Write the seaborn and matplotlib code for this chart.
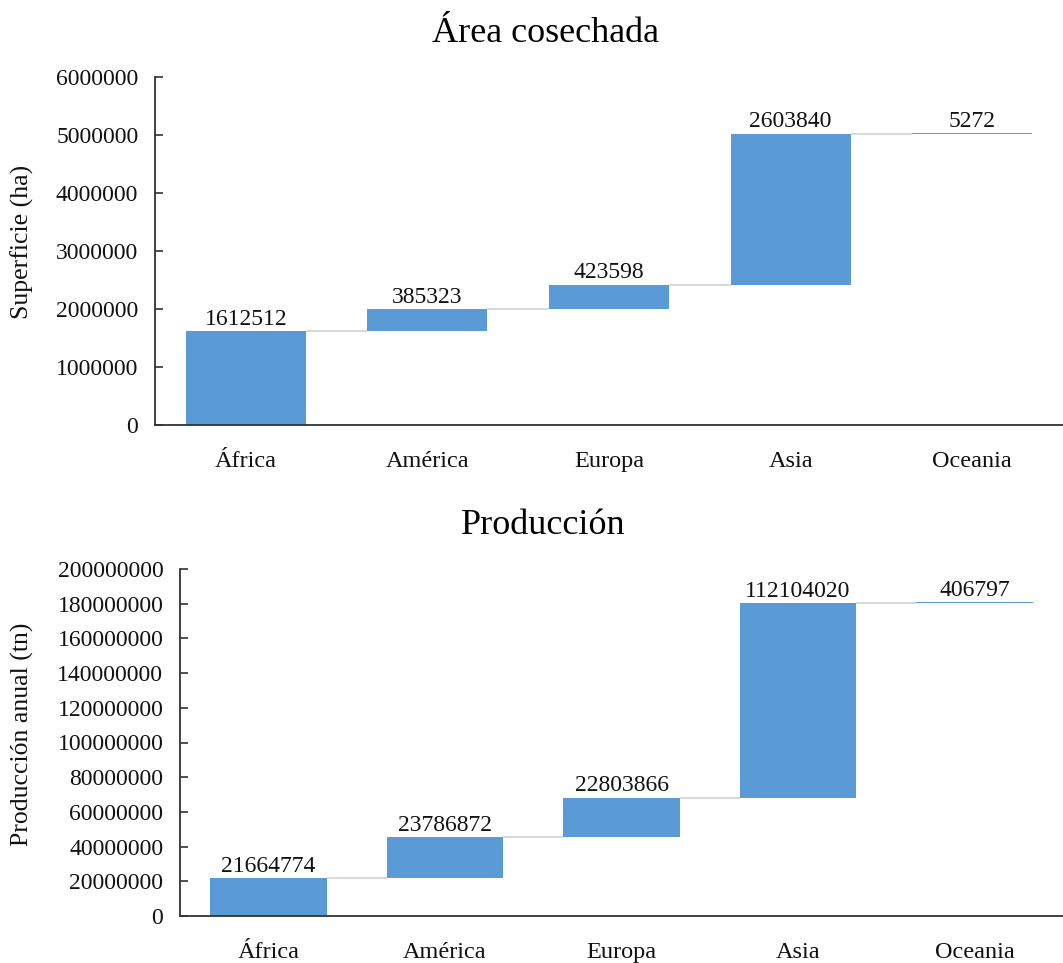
import numpy as np
import pandas as pd
import matplotlib
matplotlib.use("Agg")
import matplotlib.pyplot as plt
from matplotlib.ticker import MultipleLocator, FuncFormatter
import seaborn as sns

# Regions and their contributions
regiones = ["África", "América", "Europa", "Asia", "Oceania"]
area_ha = [1612512, 385323, 423598, 2603840, 5272]
produccion_tn = [21664774, 23786872, 22803866, 112104020, 406797]

sns.set_theme(style="white")
plt.rcParams["font.family"] = ["Liberation Serif", "DejaVu Serif"]

BAR_COLOR = "#5B9BD5"
LINK_COLOR = "#D9D9D9"
BAR_W = 0.66
TEXT = "#111111"


def waterfall(ax, values, ylabel, ymax, step, label_y):
    vals = np.asarray(values, dtype=float)
    tops = np.cumsum(vals)
    bases = tops - vals
    df = pd.DataFrame({"region": regiones, "valor": vals})
    sns.barplot(data=df, x="region", y="valor", order=regiones, bottom=bases,
                color=BAR_COLOR, saturation=1, width=BAR_W, errorbar=None,
                linewidth=0, ax=ax)
    # connectors between consecutive bars
    pos = np.arange(len(regiones))
    ax.hlines(tops[:-1], pos[:-1] + BAR_W / 2, pos[1:] - BAR_W / 2,
              color=LINK_COLOR, linewidth=1.5, zorder=1)
    ax.bar_label(ax.containers[0], labels=[f"{int(v)}" for v in vals],
                 padding=1, fontsize=17, color=TEXT)
    ax.set_xlim(-0.5, len(regiones) - 0.5)
    ax.set_ylim(0, ymax)
    ax.yaxis.set_major_locator(MultipleLocator(step))
    ax.yaxis.set_major_formatter(FuncFormatter(lambda v, p: f"{int(round(v))}"))
    ax.set_xlabel("")
    ax.set_ylabel(ylabel, fontsize=18.5, color=TEXT)
    ax.yaxis.set_label_coords(34 / 1063, label_y, transform=ax.figure.transFigure)
    for s in ("top", "right"):
        ax.spines[s].set_visible(False)
    for s in ("left", "bottom"):
        ax.spines[s].set_color("#333333")
        ax.spines[s].set_linewidth(1.3)
    ax.tick_params(axis="y", direction="in", length=6, width=1.2, color="#333333",
                   pad=12, labelsize=17, labelcolor=TEXT, left=True)
    ax.tick_params(axis="x", length=0, pad=19, labelsize=17.5, labelcolor=TEXT)


fig = plt.figure(figsize=(10.63, 9.63), dpi=100)
ax1 = fig.add_axes([155 / 1063, 1 - 425 / 963, 1 - 155 / 1063, 348 / 963])
ax2 = fig.add_axes([180 / 1063, 1 - 916 / 963, 1 - 180 / 1063, 347 / 963])

waterfall(ax1, area_ha, "Superficie (ha)", 6000000, 1000000, 1 - 242 / 963)
waterfall(ax2, produccion_tn, "Producción anual (tn)", 200000000, 20000000, 1 - 734 / 963)

fig.text(545 / 1063, 1 - 33 / 963, "Área cosechada", ha="center", va="center",
         fontsize=26, color="#000000")
fig.text(543 / 1063, 1 - 525 / 963, "Producción", ha="center", va="center",
         fontsize=26, color="#000000")

fig.savefig("out.png", dpi=100)
